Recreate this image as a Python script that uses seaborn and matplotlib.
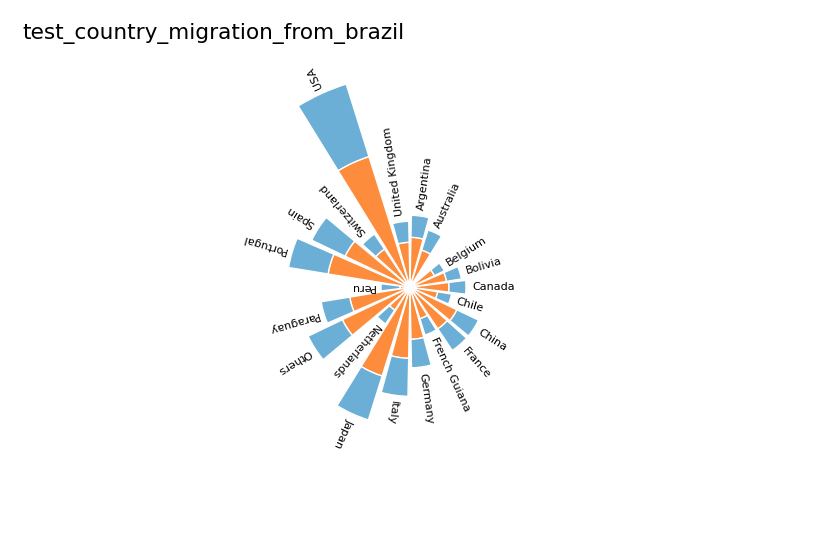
import numpy as np
import pandas as pd
import matplotlib
matplotlib.use("Agg")
import matplotlib.pyplot as plt
import seaborn as sns

# categories, clockwise starting at the top (one empty slot after Australia)
countries = ["Argentina", "Australia", "", "Belgium", "Bolivia", "Canada",
             "Chile", "China", "France", "French Guiana", "Germany", "Italy",
             "Japan", "Netherlands", "Others", "Paraguay", "Peru", "Portugal",
             "Spain", "Switzerland", "USA", "United Kingdom"]

# inner (orange) and outer (blue) stacked segments
inner_part = [50, 39, 0, 27, 37, 39, 28, 52, 50, 33, 52, 71,
              93, 27.5, 75, 61, 10, 83, 72, 46, 137, 45]
outer_part = [22, 21, 0, 11, 15, 17, 14, 24, 26, 17, 28.5, 38,
              46, 16.5, 38, 29, 19, 40, 37, 18, 76, 21]

sns.set_theme(style="white")
plt.rcParams["font.family"] = ["DejaVu Sans"]

df = pd.DataFrame({"country": countries, "inner": inner_part, "outer": outer_part})
df["total"] = df["inner"] + df["outer"]
n = len(df)
step = 2 * np.pi / n
df["theta"] = np.pi / 2 - (np.arange(n) + 0.5) * step

orange = "#fd8d3c"
blue = "#6baed6"

fig = plt.figure(figsize=(8.2, 5.47), dpi=100)
R = 220
cx, cy = 410, 547 - 287.3
ax = fig.add_axes([(cx - R) / 820, (cy - R) / 547, 2 * R / 820, 2 * R / 547],
                  projection="polar")

ax.bar(df["theta"], df["inner"], width=step * 0.87, color=orange,
       edgecolor="white", linewidth=1)
ax.bar(df["theta"], df["outer"], bottom=df["inner"], width=step * 0.87,
       color=blue, edgecolor="white", linewidth=1)

for _, row in df.iterrows():
    if not row["country"]:
        continue
    ax.text(row["theta"], row["total"] + 6, row["country"],
            rotation=np.degrees(row["theta"]), rotation_mode="anchor",
            ha="left", va="center", fontsize=8, color="black")

ax.set_ylim(0, R)
ax.set_axis_off()

fig.text(22.7 / 820, 1 - 39.5 / 547, "test_country_migration_from_brazil",
         fontsize=15.6, ha="left", va="baseline", color="black")

fig.savefig("out.png", dpi=100)
